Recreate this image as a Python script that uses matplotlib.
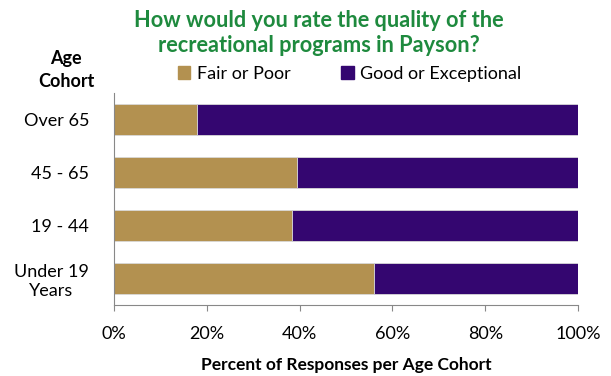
import matplotlib
matplotlib.use("Agg")
from matplotlib import pyplot as plt
from matplotlib.patches import Rectangle

# 各年龄段评价数据（百分比）
cohorts = ["Over 65", "45 - 65", "19 - 44", "Under 19\nYears"]
fair_poor = [17.8, 39.4, 38.4, 56.0]
good_exc = [100 - v for v in fair_poor]

tan = "#B39150"
purple = "#340670"
green = "#1E8A3E"

plt.rcParams["font.family"] = ["Lato", "DejaVu Sans"]

fig = plt.figure(figsize=(6.11, 3.76), dpi=100)
ax = fig.add_axes([0.1866, 0.189, 0.7594, 0.5637])

y = range(len(cohorts))
ax.barh(y, fair_poor, height=0.57, color=tan, edgecolor="#d8d8d8", linewidth=0.6, label="Fair or Poor")
ax.barh(y, good_exc, left=fair_poor, height=0.57, color=purple, edgecolor="#d8d8d8", linewidth=0.6,
        label="Good or Exceptional")

ax.set_ylim(len(cohorts) - 0.5, -0.5)
ax.set_xlim(0, 100)
ax.set_yticks(list(y))
ax.set_yticklabels(cohorts, fontsize=13, linespacing=1.2, multialignment="center")
ax.set_xticks(range(0, 101, 20))
ax.set_xticklabels(["{}%".format(i) for i in range(0, 101, 20)], fontsize=13)
ax.tick_params(axis="y", length=0, pad=18)
ax.tick_params(axis="x", length=4, color="#888888", pad=11)

for s in ["top", "right"]:
    ax.spines[s].set_visible(False)
for s in ["left", "bottom"]:
    ax.spines[s].set_color("#888888")

ax.set_xlabel("Percent of Responses per Age Cohort", fontsize=12.5, fontweight="bold", labelpad=11)

# 标题和左上角标签
fig.text(0.522, 0.912, "How would you rate the quality of the\nrecreational programs in Payson?",
         ha="center", va="center", fontsize=15.7, fontweight="bold", color=green, linespacing=1.22)
fig.text(0.108, 0.814, "Age\nCohort", ha="center", va="center", fontsize=13, fontweight="bold",
         linespacing=1.45)

# 图例
handles = [Rectangle((0, 0), 1, 1, color=tan), Rectangle((0, 0), 1, 1, color=purple)]
fig.legend(handles, ["Fair or Poor", "Good or Exceptional"], loc="center", bbox_to_anchor=(0.572, 0.803),
           ncol=2, frameon=False, fontsize=13, handlelength=0.7, handleheight=0.7, columnspacing=2.8,
           handletextpad=0.35)

fig.savefig("out.png", dpi=100)
